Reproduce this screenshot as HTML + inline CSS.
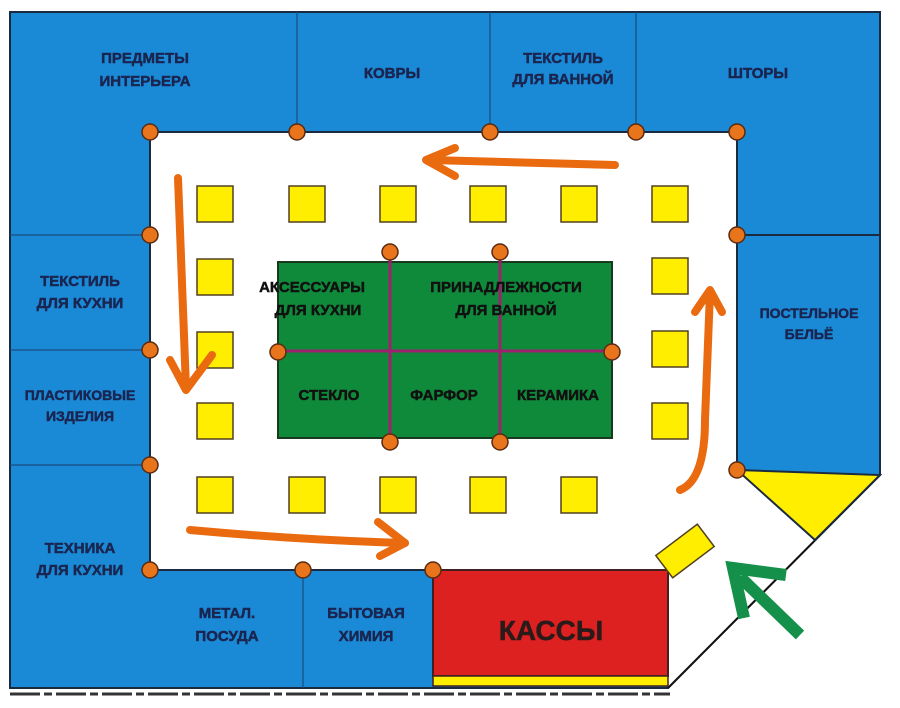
<!DOCTYPE html>
<html><head><meta charset="utf-8"><style>
body{margin:0;background:#fff;}
svg{display:block;font-family:"Liberation Sans",sans-serif;font-weight:bold;}
</style></head><body>
<svg width="900" height="708" viewBox="0 0 900 708" xmlns="http://www.w3.org/2000/svg">
<rect width="900" height="708" fill="#fff"/>
<polygon points="10,12 880,12 880,475 668,688 10,688" fill="#1a8ad6" stroke="#1a2a40" stroke-width="2"/>
<polygon points="150,132 737,132 737,470 815,540 668,688 668,570 150,570" fill="#fff" stroke="none"/>
<polyline points="150,570 150,132 737,132 737,470" fill="none" stroke="#1a2a40" stroke-width="2"/>
<line x1="150" y1="570" x2="433" y2="570" stroke="#1a2a40" stroke-width="2"/>
<line x1="880" y1="475" x2="668" y2="688" stroke="#111" stroke-width="2"/>
<polygon points="737,470 880,475 815,540" fill="#ffee00" stroke="#1a2a40" stroke-width="2"/>
<g stroke="#1a4a80" stroke-width="1.2">
<line x1="297" y1="12" x2="297" y2="132"/><line x1="490" y1="12" x2="490" y2="132"/><line x1="636" y1="12" x2="636" y2="132"/>
<line x1="10" y1="235" x2="150" y2="235"/><line x1="10" y1="350" x2="150" y2="350"/><line x1="10" y1="465" x2="150" y2="465"/>
<line x1="303" y1="570" x2="303" y2="688"/>
</g>
<line x1="737" y1="235" x2="880" y2="235" stroke="#1a2a40" stroke-width="2"/>
<rect x="433" y="570" width="235" height="106" fill="#dd2020" stroke="#402020" stroke-width="2"/>
<rect x="433" y="676" width="235" height="10" fill="#ffee00" stroke="#402020" stroke-width="1.5"/>
<line x1="10" y1="694" x2="670" y2="694" stroke="#333" stroke-width="3" stroke-dasharray="30,4,8,4"/>
<rect x="278" y="262" width="334" height="176" fill="#0f8a3a" stroke="#1a3a20" stroke-width="2"/>
<g stroke="#a02070" stroke-width="3"><line x1="390" y1="252" x2="390" y2="442"/><line x1="500" y1="252" x2="500" y2="442"/><line x1="278" y1="351" x2="612" y2="351"/></g>
<g fill="#ffee00" stroke="#504020" stroke-width="1.5">
<rect x="197" y="186" width="36" height="36"/><rect x="289" y="186" width="36" height="36"/><rect x="380" y="186" width="36" height="36"/><rect x="470" y="186" width="36" height="36"/><rect x="561" y="186" width="36" height="36"/><rect x="652" y="186" width="36" height="36"/>
<rect x="197" y="259" width="36" height="36"/><rect x="197" y="332" width="36" height="36"/><rect x="197" y="403" width="36" height="36"/>
<rect x="652" y="258" width="36" height="36"/><rect x="652" y="331" width="36" height="36"/><rect x="652" y="403" width="36" height="36"/>
<rect x="197" y="477" width="36" height="36"/><rect x="289" y="477" width="36" height="36"/><rect x="380" y="477" width="36" height="36"/><rect x="470" y="477" width="36" height="36"/><rect x="561" y="477" width="36" height="36"/>
<rect x="-26" y="-14" width="52" height="28" transform="translate(685,551) rotate(-37)"/>
</g>
<g fill="#e8741c" stroke="#5a2a10" stroke-width="1.5">
<circle cx="150" cy="132" r="8"/><circle cx="297" cy="132" r="8"/><circle cx="490" cy="132" r="8"/><circle cx="636" cy="132" r="8"/><circle cx="737" cy="132" r="8"/>
<circle cx="150" cy="235" r="8"/><circle cx="150" cy="350" r="8"/><circle cx="150" cy="465" r="8"/><circle cx="150" cy="570" r="8"/><circle cx="303" cy="570" r="8"/><circle cx="433" cy="570" r="8"/>
<circle cx="737" cy="235" r="8"/><circle cx="737" cy="470" r="8"/>
<circle cx="390" cy="252" r="8"/><circle cx="500" cy="252" r="8"/><circle cx="278" cy="352" r="8"/><circle cx="612" cy="352" r="8"/><circle cx="390" cy="442" r="8"/><circle cx="500" cy="442" r="8"/>
</g>
<g fill="none" stroke="#ea6a10" stroke-width="8" stroke-linecap="round" stroke-linejoin="round">
<path d="M615,165 L430,160"/><path d="M455,148 L426,160 L455,176"/>
<path d="M178,178 Q182,290 186,388"/><path d="M170,360 L186,390 L212,355"/>
<path d="M190,530 Q300,540 405,543"/><path d="M378,522 L405,543 L380,556"/>
<path d="M680,490 Q705,480 705,420 L710,292"/><path d="M695,312 L710,290 L722,312"/>
</g>
<g stroke="#15904a" stroke-width="12" fill="none" stroke-linejoin="miter">
<line x1="800" y1="635" x2="740" y2="577"/>
<polyline points="744,618 733,568 786,575"/>
</g>
<g fill="#1a2550" stroke="#1a2550" stroke-width="0.5" font-size="15" text-anchor="middle">
<text x="145" y="63">ПРЕДМЕТЫ</text><text x="145" y="86">ИНТЕРЬЕРА</text>
<text x="392" y="78">КОВРЫ</text>
<text x="563" y="63">ТЕКСТИЛЬ</text><text x="563" y="84">ДЛЯ ВАННОЙ</text>
<text x="758" y="78">ШТОРЫ</text>
<text x="80" y="286">ТЕКСТИЛЬ</text><text x="80" y="308">ДЛЯ КУХНИ</text>
<text x="80" y="400" font-size="14">ПЛАСТИКОВЫЕ</text><text x="80" y="421" font-size="14">ИЗДЕЛИЯ</text>
<text x="80" y="553">ТЕХНИКА</text><text x="80" y="575">ДЛЯ КУХНИ</text>
<text x="809" y="318" font-size="14">ПОСТЕЛЬНОЕ</text><text x="809" y="339" font-size="14">БЕЛЬЁ</text>
<text x="227" y="618">МЕТАЛ.</text><text x="227" y="641">ПОСУДА</text>
<text x="366" y="618">БЫТОВАЯ</text><text x="366" y="641">ХИМИЯ</text>
<text x="551" y="640" font-size="28" fill="#2a1a1a" stroke="#2a1a1a">КАССЫ</text>
</g>
<g fill="#111" stroke="#111" stroke-width="0.5" font-size="15" text-anchor="middle">
<text x="312" y="292">АКСЕССУАРЫ</text><text x="318" y="315">ДЛЯ КУХНИ</text>
<text x="506" y="292">ПРИНАДЛЕЖНОСТИ</text><text x="506" y="315">ДЛЯ ВАННОЙ</text>
<text x="329" y="400">СТЕКЛО</text><text x="444" y="400">ФАРФОР</text><text x="558" y="400">КЕРАМИКА</text>
</g>
</svg>
</body></html>
